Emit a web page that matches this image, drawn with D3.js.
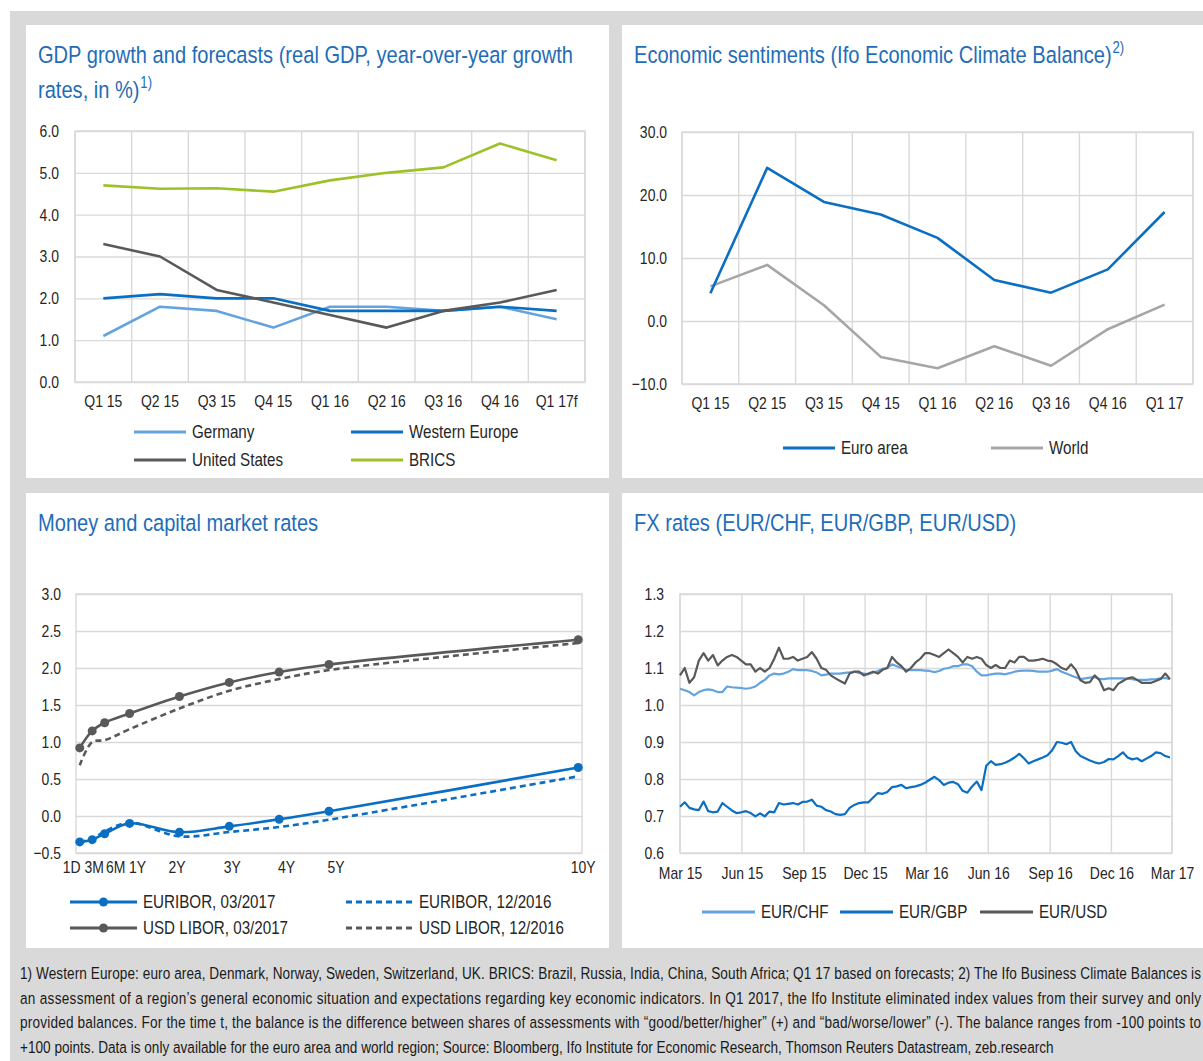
<!DOCTYPE html>
<html>
<head>
<meta charset="utf-8">
<script src="https://cdn.jsdelivr.net/npm/d3@7"></script>
<style>
  html, body { margin: 0; padding: 0; background: #fff; }
  svg { display: block; font-family: "Liberation Sans", Arial, sans-serif; }
</style>
</head>
<body>
<svg id="page" width="1203" height="1061"></svg>
<script>
// ---- data ----
const gdpQuarters = ['Q1 15', 'Q2 15', 'Q3 15', 'Q4 15', 'Q1 16', 'Q2 16', 'Q3 16', 'Q4 16', 'Q1 17f']
const gdpGermany = [1.1, 1.8, 1.7, 1.3, 1.8, 1.8, 1.7, 1.8, 1.5]
const gdpWesternEurope = [2.0, 2.1, 2.0, 2.0, 1.7, 1.7, 1.7, 1.8, 1.7]
const gdpUnitedStates = [3.3, 3.0, 2.2, 1.9, 1.6, 1.3, 1.7, 1.9, 2.2]
const gdpBrics = [4.7, 4.62, 4.63, 4.55, 4.82, 5.0, 5.13, 5.7, 5.3]
const gdpTicks = [0, 1, 2, 3, 4, 5, 6]

const ifoQuarters = ['Q1 15', 'Q2 15', 'Q3 15', 'Q4 15', 'Q1 16', 'Q2 16', 'Q3 16', 'Q4 16', 'Q1 17']
const ifoEuroArea = [4.4, 24.3, 18.9, 16.9, 13.2, 6.5, 4.5, 8.2, 17.3]
const ifoWorld = [5.5, 8.9, 2.5, -5.7, -7.5, -4.0, -7.1, -1.3, 2.6]
const ifoTicks = [-10, 0, 10, 20, 30]

const rateMaturities = ['1D', '3M', '6M', '1Y', '2Y', '3Y', '4Y', '5Y', '10Y']
const rateYears = [0, 0.25, 0.5, 1, 2, 3, 4, 5, 10]
const rateLabelYears = [-0.17, 0.28, 0.71, 1.15, 1.94, 3.05, 4.14, 5.13, 10.09]
const euribor0317 = [-0.35, -0.32, -0.24, -0.10, -0.22, -0.14, -0.045, 0.064, 0.655]
const euribor1216 = [-0.35, -0.31, -0.21, -0.09, -0.275, -0.216, -0.148, -0.05, 0.537]
const libor0317 = [0.92, 1.15, 1.26, 1.385, 1.615, 1.805, 1.945, 2.048, 2.382]
const libor1216 = [0.686, 1.0, 1.025, 1.173, 1.453, 1.692, 1.85, 1.972, 2.337]
const rateTicks = [-0.5, 0, 0.5, 1, 1.5, 2, 2.5, 3]

// weekly closes from 2015-03-01
const fxStart = '2015-03-01'
const fxEnd = '2017-03-01'
const fxTickDates = ['2015-03-01', '2015-06-01', '2015-09-01', '2015-12-01', '2016-03-01',
  '2016-06-01', '2016-09-01', '2016-12-01', '2017-03-01']
const fxEurUsd = [
  1.08, 1.10, 1.06, 1.075, 1.12, 1.14, 1.12, 1.135, 1.107, 1.12,
  1.13, 1.135, 1.13, 1.12, 1.11, 1.11, 1.09, 1.10, 1.09, 1.10,
  1.125, 1.155, 1.125, 1.125, 1.13, 1.12, 1.125, 1.13, 1.143, 1.125,
  1.10, 1.095, 1.08, 1.072, 1.065, 1.058, 1.085, 1.09, 1.09, 1.08,
  1.085, 1.09, 1.085, 1.095, 1.10, 1.13, 1.115, 1.105, 1.09, 1.10,
  1.115, 1.125, 1.14, 1.14, 1.135, 1.13, 1.14, 1.15, 1.14, 1.13,
  1.115, 1.13, 1.125, 1.13, 1.125, 1.108, 1.10, 1.108, 1.10, 1.10,
  1.12, 1.115, 1.13, 1.13, 1.12, 1.12, 1.122, 1.125, 1.12, 1.118,
  1.11, 1.10, 1.095, 1.11, 1.095, 1.067, 1.06, 1.062, 1.08, 1.068,
  1.04, 1.045, 1.04, 1.057, 1.065, 1.072, 1.075, 1.068, 1.06, 1.06,
  1.06, 1.065, 1.07, 1.085, 1.07]
const fxEurChf = [
  1.044, 1.04, 1.035, 1.026, 1.035, 1.04, 1.042, 1.04, 1.035, 1.035,
  1.05, 1.048, 1.047, 1.046, 1.044, 1.046, 1.05, 1.06, 1.068, 1.08,
  1.085, 1.083, 1.085, 1.09, 1.097, 1.094, 1.094, 1.094, 1.092, 1.088,
  1.08, 1.082, 1.085, 1.085, 1.085, 1.087, 1.088, 1.09, 1.087, 1.085,
  1.083, 1.088, 1.092, 1.098, 1.10, 1.11, 1.105, 1.10, 1.095, 1.094,
  1.094, 1.094, 1.093, 1.092, 1.089, 1.092, 1.098, 1.10, 1.105, 1.105,
  1.11, 1.11, 1.105, 1.09, 1.08, 1.08, 1.083, 1.085, 1.085, 1.083,
  1.086, 1.09, 1.092, 1.093, 1.093, 1.092, 1.09, 1.09, 1.09, 1.093,
  1.097, 1.09, 1.085, 1.08, 1.075, 1.07, 1.072, 1.074, 1.076, 1.07,
  1.07, 1.072, 1.072, 1.072, 1.072, 1.071, 1.07, 1.068, 1.068, 1.068,
  1.069, 1.07, 1.072, 1.073, 1.07]
const fxEurGbp = [
  0.725, 0.737, 0.722, 0.718, 0.716, 0.739, 0.713, 0.71, 0.712, 0.735,
  0.725, 0.715, 0.708, 0.71, 0.713, 0.708, 0.699, 0.707, 0.699, 0.712,
  0.71, 0.735, 0.731, 0.733, 0.735, 0.731, 0.738, 0.739, 0.744, 0.728,
  0.725, 0.716, 0.712, 0.705, 0.703, 0.705, 0.722, 0.73, 0.735, 0.737,
  0.737, 0.75, 0.762, 0.76, 0.765, 0.778, 0.78, 0.784, 0.775, 0.778,
  0.78, 0.784, 0.79, 0.798, 0.806, 0.797, 0.784, 0.79, 0.792, 0.786,
  0.768, 0.763, 0.78, 0.793, 0.77, 0.836, 0.848, 0.838, 0.84, 0.844,
  0.85, 0.858, 0.868, 0.856, 0.842, 0.848, 0.853, 0.858, 0.864, 0.878,
  0.9, 0.898, 0.894, 0.9, 0.875, 0.862, 0.856, 0.85, 0.845, 0.842,
  0.846, 0.854, 0.853, 0.862, 0.872, 0.858, 0.853, 0.856, 0.848, 0.855,
  0.862, 0.872, 0.87, 0.862, 0.858]
const fxTicks = [0.6, 0.7, 0.8, 0.9, 1.0, 1.1, 1.2, 1.3]

const footnote = [
  '1) Western Europe: euro area, Denmark, Norway, Sweden, Switzerland, UK. BRICS: Brazil, Russia, India, China, South Africa; Q1 17 based on forecasts; 2) The Ifo Business Climate Balances is',
  'an assessment of a region\u2019s general economic situation and expectations regarding key economic indicators. In Q1 2017, the Ifo Institute eliminated index values from their survey and only',
  'provided balances. For the time t, the balance is the difference between shares of assessments with \u201cgood/better/higher\u201d (+) and \u201cbad/worse/lower\u201d (-). The balance ranges from -100 points to',
  '+100 points. Data is only available for the euro area and world region; Source: Bloomberg, Ifo Institute for Economic Research, Thomson Reuters Datastream, zeb.research'
]

// ---- styles ----
const GRID = '#d9d9d9'
const TEXT = '#262626'
const TITLE = '#1f6db8'
const LIGHT_BLUE = '#62a3e0'
const BLUE = '#0a6fc2'
const DARK_GRAY = '#595959'
const LIGHT_GRAY = '#a6a6a6'
const LIME = '#9cc22a'
const NARROW = 0.82   // squeeze Liberation Sans to a narrow cut

const svg = d3.select('#page')

svg.append('rect')
  .attr('x', 10).attr('y', 11).attr('width', 1193).attr('height', 1050)
  .attr('fill', '#d9d9d9')

const panels = [
  { x: 26, y: 25, w: 583, h: 453 },
  { x: 622, y: 25, w: 581, h: 453 },
  { x: 26, y: 493, w: 583, h: 455 },
  { x: 622, y: 493, w: 581, h: 455 }
]
panels.forEach(p => {
  svg.append('rect').attr('x', p.x).attr('y', p.y).attr('width', p.w).attr('height', p.h).attr('fill', '#fff')
})

// titles: narrow via a horizontal scale on their group; superscript as its own text
function title(x, y, lines, sup) {
  lines.forEach((line, i) => {
    const g = svg.append('g')
      .attr('class', 'title')
      .attr('transform', `translate(${x},${y + i * 35}) scale(${NARROW},1)`)
    const t = g.append('text')
      .attr('fill', TITLE).attr('font-size', 24.5)
      .text(line)
    if (sup && i === lines.length - 1) {
      const w = t.node().getComputedTextLength()
      g.append('text')
        .attr('x', w + 1).attr('y', -10)
        .attr('fill', TITLE).attr('font-size', 16)
        .text(sup)
    }
  })
}

function yGrid(y, ticks, fmt, x0, x1, labelRight) {
  svg.append('g')
    .attr('transform', `translate(${x0},0)`)
    .call(d3.axisLeft(y).tickValues(ticks).tickFormat(fmt)
      .tickSizeInner(-(x1 - x0)).tickSizeOuter(0).tickPadding(x0 - labelRight))
    .attr('font-family', null).attr('font-size', 17)
    .call(a => a.select('.domain').remove())
    .call(a => a.selectAll('line').attr('stroke', GRID).attr('stroke-width', 1.4))
    .call(a => a.selectAll('text').attr('fill', TEXT))
}

function frame(x0, x1, y0, y1) {
  svg.append('rect')
    .attr('x', x0).attr('y', y0).attr('width', x1 - x0).attr('height', y1 - y0)
    .attr('fill', 'none').attr('stroke', GRID).attr('stroke-width', 1.4)
}

function vLines(xs, y0, y1) {
  svg.append('g').selectAll('line').data(xs).join('line')
    .attr('x1', d => d).attr('x2', d => d)
    .attr('y1', y0).attr('y2', y1)
    .attr('stroke', GRID).attr('stroke-width', 1.4)
}

function legendItem(x1, x2, y, color, label, opts = {}) {
  const g = svg.append('g')
  g.append('line')
    .attr('x1', x1).attr('x2', x2).attr('y1', y).attr('y2', y)
    .attr('stroke', color).attr('stroke-width', 3)
    .attr('stroke-dasharray', opts.dash || null)
  if (opts.marker) {
    g.append('circle').attr('cx', (x1 + x2) / 2).attr('cy', y).attr('r', 4.5).attr('fill', color)
  }
  g.append('text')
    .attr('x', x2 + 6).attr('y', y).attr('dy', '0.35em')
    .attr('fill', TEXT).attr('font-size', 18.5)
    .text(label)
}

const fmt1 = d3.format('.1f')

// ---- chart 1: GDP ----
{
  const x0 = 75, x1 = 585, y0 = 131, y1 = 382
  title(38, 63, ['GDP growth and forecasts (real GDP, year-over-year growth', 'rates, in %)'], '1)')
  const x = d3.scaleBand().domain(gdpQuarters).range([x0, x1])
  const y = d3.scaleLinear().domain([0, 6]).range([y1, y0])
  yGrid(y, gdpTicks, fmt1, x0, x1, 59)
  vLines(gdpQuarters.map(q => x(q)).concat([x1]), y0, y1)
  frame(x0, x1, y0, y1)

  svg.append('g').attr('transform', `translate(0,${y1})`)
    .call(d3.axisBottom(x).tickSize(0).tickPadding(13))
    .attr('font-family', null).attr('font-size', 17)
    .call(a => a.select('.domain').remove())
    .call(a => a.selectAll('text').attr('fill', TEXT))

  const line = d3.line().x((d, i) => x(gdpQuarters[i]) + x.bandwidth() / 2).y(d => y(d))
  const series = [
    [gdpGermany, LIGHT_BLUE], [gdpWesternEurope, BLUE],
    [gdpUnitedStates, DARK_GRAY], [gdpBrics, LIME]
  ]
  series.forEach(([vals, color]) => {
    svg.append('path').datum(vals)
      .attr('fill', 'none').attr('stroke', color).attr('stroke-width', 2.6)
      .attr('stroke-linejoin', 'round').attr('d', line)
  })

  legendItem(134, 186, 432, LIGHT_BLUE, 'Germany')
  legendItem(351, 403, 432, BLUE, 'Western Europe')
  legendItem(134, 186, 460, DARK_GRAY, 'United States')
  legendItem(351, 403, 460, LIME, 'BRICS')
}

// ---- chart 2: Ifo ----
{
  const x0 = 682, x1 = 1193, y0 = 132, y1 = 384
  title(634, 63, ['Economic sentiments (Ifo Economic Climate Balance)'], '2)')
  const x = d3.scaleBand().domain(ifoQuarters).range([x0, x1])
  const y = d3.scaleLinear().domain([-10, 30]).range([y1, y0])
  yGrid(y, ifoTicks, fmt1, x0, x1, 667)
  vLines(ifoQuarters.map(q => x(q)).concat([x1]), y0, y1)
  frame(x0, x1, y0, y1)

  svg.append('g').attr('transform', `translate(0,${y1})`)
    .call(d3.axisBottom(x).tickSize(0).tickPadding(13))
    .attr('font-family', null).attr('font-size', 17)
    .call(a => a.select('.domain').remove())
    .call(a => a.selectAll('text').attr('fill', TEXT))

  const line = d3.line().x((d, i) => x(ifoQuarters[i]) + x.bandwidth() / 2).y(d => y(d))
  ;[[ifoWorld, LIGHT_GRAY], [ifoEuroArea, BLUE]].forEach(([vals, color]) => {
    svg.append('path').datum(vals)
      .attr('fill', 'none').attr('stroke', color).attr('stroke-width', 2.6)
      .attr('stroke-linejoin', 'round').attr('d', line)
  })

  legendItem(783, 835, 448, BLUE, 'Euro area')
  legendItem(991, 1043, 448, LIGHT_GRAY, 'World')
}

// ---- chart 3: money and capital market rates ----
{
  const x0 = 76, x1 = 582, y0 = 594, y1 = 853
  title(38, 531, ['Money and capital market rates'])
  const x = d3.scaleLinear().domain([-0.075, 10.075]).range([x0, x1])
  const y = d3.scaleLinear().domain([-0.5, 3]).range([y1, y0])
  yGrid(y, rateTicks, fmt1, x0, x1, 61)
  frame(x0, x1, y0, y1)

  svg.append('g').attr('transform', `translate(0,${y1})`)
    .call(d3.axisBottom(x).tickValues(rateLabelYears)
      .tickFormat((d, i) => rateMaturities[i]).tickSize(0).tickPadding(8))
    .attr('font-family', null).attr('font-size', 17)
    .call(a => a.select('.domain').remove())
    .call(a => a.selectAll('text').attr('fill', TEXT))

  const line = d3.line()
    .x((d, i) => x(rateYears[i])).y(d => y(d))
    .curve(d3.curveCatmullRom.alpha(0.5))

  const series = [
    { vals: libor1216, color: DARK_GRAY, dash: '6,4' },
    { vals: euribor1216, color: BLUE, dash: '6,4' },
    { vals: libor0317, color: DARK_GRAY, marker: true },
    { vals: euribor0317, color: BLUE, marker: true }
  ]
  series.forEach(s => {
    svg.append('path').datum(s.vals)
      .attr('fill', 'none').attr('stroke', s.color).attr('stroke-width', 2.6)
      .attr('stroke-dasharray', s.dash || null).attr('d', line)
    if (s.marker) {
      svg.append('g').selectAll('circle').data(s.vals).join('circle')
        .attr('cx', (d, i) => x(rateYears[i])).attr('cy', d => y(d))
        .attr('r', 4.5).attr('fill', s.color)
    }
  })

  legendItem(70, 137, 902, BLUE, 'EURIBOR, 03/2017', { marker: true })
  legendItem(346, 413, 902, BLUE, 'EURIBOR, 12/2016', { dash: '6,4' })
  legendItem(70, 137, 928, DARK_GRAY, 'USD LIBOR, 03/2017', { marker: true })
  legendItem(346, 413, 928, DARK_GRAY, 'USD LIBOR, 12/2016', { dash: '6,4' })
}

// ---- chart 4: FX ----
{
  const x0 = 680, x1 = 1172, y0 = 594, y1 = 853
  title(634, 531, ['FX rates (EUR/CHF, EUR/GBP, EUR/USD)'])
  const parse = d3.utcParse('%Y-%m-%d')
  const start = parse(fxStart)
  const x = d3.scaleUtc().domain([start, parse(fxEnd)]).range([x0, x1])
  const y = d3.scaleLinear().domain([0.6, 1.3]).range([y1, y0])
  const ticks = fxTickDates.map(parse)
  yGrid(y, fxTicks, fmt1, x0, x1, 664)
  vLines(ticks.map(x), y0, y1)
  frame(x0, x1, y0, y1)

  svg.append('g').attr('transform', `translate(0,${y1})`)
    .call(d3.axisBottom(x).tickValues(ticks).tickFormat(d3.utcFormat('%b %y')).tickSize(0).tickPadding(14))
    .attr('font-family', null).attr('font-size', 17)
    .call(a => a.select('.domain').remove())
    .call(a => a.selectAll('text').attr('fill', TEXT))

  const line = d3.line()
    .x((d, i) => x(d3.utcDay.offset(start, i * 7))).y(d => y(d))
  ;[[fxEurGbp, BLUE], [fxEurChf, LIGHT_BLUE], [fxEurUsd, DARK_GRAY]].forEach(([vals, color]) => {
    svg.append('path').datum(vals)
      .attr('fill', 'none').attr('stroke', color).attr('stroke-width', 2.2)
      .attr('stroke-linejoin', 'round').attr('d', line)
  })

  legendItem(702, 755, 912, LIGHT_BLUE, 'EUR/CHF')
  legendItem(840, 893, 912, BLUE, 'EUR/GBP')
  legendItem(980, 1033, 912, DARK_GRAY, 'EUR/USD')
}

// squeeze axis and legend labels to a narrow cut (no narrow font installed)
svg.selectAll('text').filter(function () { return !this.closest('.title') }).each(function () {
  const len = this.getComputedTextLength()
  d3.select(this).attr('textLength', len * NARROW).attr('lengthAdjust', 'spacingAndGlyphs')
})

// ---- footnote (narrow, justified except the last line) ----
footnote.forEach((line, i) => {
  const g = svg.append('g')
    .attr('transform', `translate(20,${979 + i * 24.7}) scale(${NARROW},1)`)
  const t = g.append('text')
    .attr('fill', '#1a1a1a').attr('font-size', 16.6)
    .text(line)
  if (i < footnote.length - 1) {
    t.attr('textLength', 1181 / NARROW).attr('lengthAdjust', 'spacing')
  }
})
</script>
</body>
</html>
